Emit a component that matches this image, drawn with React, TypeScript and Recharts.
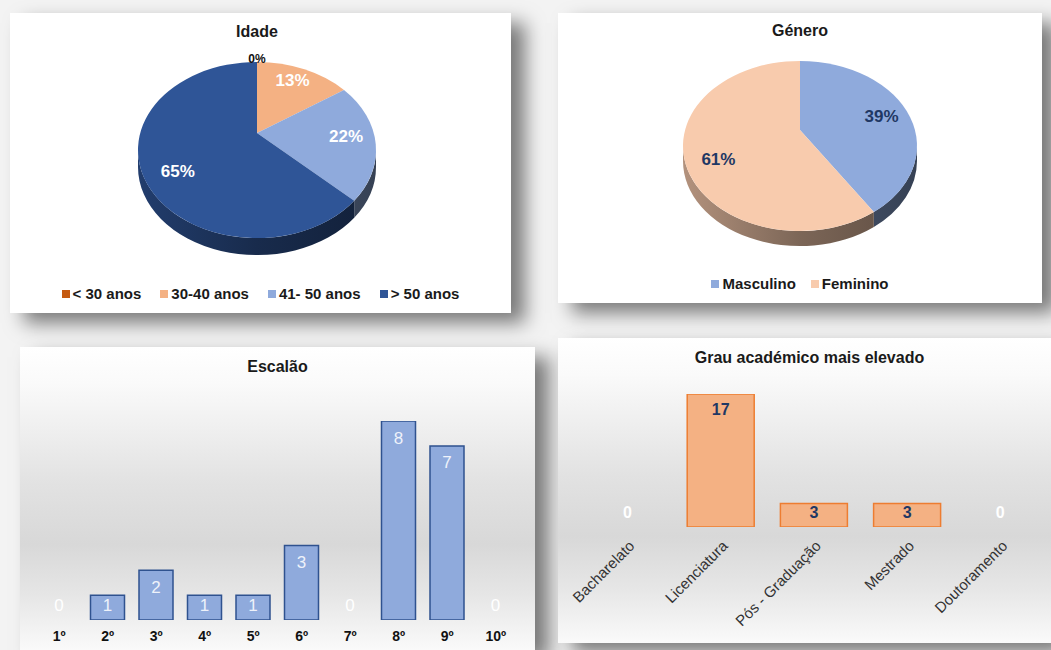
import React from "react";
import { PieChart, Pie, Cell, Legend, BarChart, Bar, XAxis, YAxis, LabelList, Rectangle } from "recharts";

const FONT = '"Liberation Sans", Arial, sans-serif';

// Idade
const ageGroups = ["< 30 anos", "30-40 anos", "41- 50 anos", "> 50 anos"];
const ageCounts = [0, 3, 5, 15];
const ageColors = ["#C55A11", "#F4B183", "#8FAADC", "#2F5597"];

// Género
const genders = ["Masculino", "Feminino"];
const genderCounts = [9, 14];
const genderColors = ["#8FAADC", "#F8CBAD"];

// Escalão
const escaloes = ["1º", "2º", "3º", "4º", "5º", "6º", "7º", "8º", "9º", "10º"];
const escalaoCounts = [0, 1, 2, 1, 1, 3, 0, 8, 7, 0];

// Grau académico
const graus = ["Bacharelato", "Licenciatura", "Pós - Graduação", "Mestrado", "Doutoramento"];
const grauCounts = [0, 17, 3, 3, 0];

const ageData = ageGroups.map((name, i) => ({ name, value: ageCounts[i] }));
const genderData = genders.map((name, i) => ({ name, value: genderCounts[i] }));
const escalaoData = escaloes.map((name, i) => ({ name, value: escalaoCounts[i] }));
const grauData = graus.map((name, i) => ({ name, value: grauCounts[i] }));

const RAD = Math.PI / 180;

function shade(hex: string, f: number) {
  const n = parseInt(hex.replace("#", ""), 16);
  const r = Math.round(((n >> 16) & 255) * f);
  const g = Math.round(((n >> 8) & 255) * f);
  const b = Math.round((n & 255) * f);
  return `rgb(${r},${g},${b})`;
}

// flat pie sector drawn as a tilted ellipse with a front wall
function makeSlice(id: string, squash: number, lift: number, depth: number) {
  return (p: any) => {
    const { cx, cy, outerRadius: rx, startAngle, endAngle, fill } = p;
    const ry = rx * squash;
    const hi = Math.max(startAngle, endAngle);
    const lo = Math.min(startAngle, endAngle);
    if (hi - lo <= 0) return <g />;
    const pt = (a: number) => [cx + rx * Math.cos(a * RAD), cy - ry * Math.sin(a * RAD)];
    const [x0, y0] = pt(hi);
    const [x1, y1] = pt(lo);
    const large = hi - lo > 180 ? 1 : 0;
    const top = `M${cx},${cy - lift}L${x0},${y0}A${rx},${ry} 0 ${large} 1 ${x1},${y1}Z`;
    const walls: number[][] = [];
    for (let k = -2; k <= 2; k++) {
      const s = Math.max(lo, k * 360 - 180);
      const e = Math.min(hi, k * 360);
      if (e > s) walls.push([s, e]);
    }
    const gid = `${id}-wall-${Math.round(startAngle)}`;
    return (
      <g>
        <defs>
          <linearGradient id={gid} gradientUnits="userSpaceOnUse" x1={cx - rx} y1={0} x2={cx + rx} y2={0}>
            <stop offset="0" stopColor={shade(fill, 0.72)} />
            <stop offset="0.5" stopColor={shade(fill, 0.5)} />
            <stop offset="1" stopColor={shade(fill, 0.38)} />
          </linearGradient>
        </defs>
        {walls.map(([s, e], i) => {
          const [ax, ay] = pt(e);
          const [bx, by] = pt(s);
          const d = `M${ax},${ay}A${rx},${ry} 0 0 1 ${bx},${by}L${bx},${by + depth}A${rx},${ry} 0 0 0 ${ax},${ay + depth}Z`;
          return <path key={i} d={d} fill={`url(#${gid})`} />;
        })}
        <path d={top} fill={fill} />
      </g>
    );
  };
}

function makePieLabel(squash: number, lift: number, frac: number, color: string) {
  return (p: any) => {
    const { cx, cy, midAngle, outerRadius, percent } = p;
    const rx = outerRadius;
    const ry = rx * squash;
    const txt = `${Math.round(percent * 100)}%`;
    if (!percent) {
      return (
        <text x={cx} y={cy - ry - 3} textAnchor="middle" dominantBaseline="central" fontSize={12} fontWeight="bold" fill="#111" fontFamily={FONT}>
          {txt}
        </text>
      );
    }
    const x = cx + frac * rx * Math.cos(midAngle * RAD);
    const y = cy - lift / 2 - frac * ry * Math.sin(midAngle * RAD);
    return (
      <text x={x} y={y} textAnchor="middle" dominantBaseline="central" fontSize={17} fontWeight="bold" fill={color} fontFamily={FONT}>
        {txt}
      </text>
    );
  };
}

// legend in the original category order
const makeLegend = (gap: number, order: string[]) => (props: any) => {
  const items = [...(props.payload || [])].sort((a: any, b: any) => order.indexOf(a.value) - order.indexOf(b.value));
  return (
    <div style={{ display: "flex", justifyContent: "center", gap, fontFamily: FONT, fontWeight: "bold", fontSize: 15, color: "#1a1a1a" }}>
      {items.map((e: any) => (
        <span key={e.value} style={{ display: "flex", alignItems: "center" }}>
          <span style={{ display: "inline-block", width: 8, height: 8, background: e.color, marginRight: 3 }} />
          {e.value}
        </span>
      ))}
    </div>
  );
};

const escalaoLabel = (p: any) => {
  const { x, y, width, height, value } = p;
  const base = y + height;
  return (
    <text x={x + width / 2} y={Math.min(y + 17, base - 15)} textAnchor="middle" dominantBaseline="central" fontSize={17} fill={value === 0 ? "#ffffff" : "#eef2fa"} fontFamily={FONT}>
      {value}
    </text>
  );
};

const grauLabel = (p: any) => {
  const { x, y, width, height, value } = p;
  const base = y + height;
  return (
    <text x={x + width / 2} y={Math.min(y + 15, base - 15)} textAnchor="middle" dominantBaseline="central" fontSize={16} fontWeight="bold" fill={value === 0 ? "#ffffff" : "#1F3864"} fontFamily={FONT}>
      {value}
    </text>
  );
};

// zero values keep their label but draw no bar
const barShape = (p: any) => (p.value === 0 ? <g /> : <Rectangle {...p} />);

const escalaoTick = (p: any) => (
  <text x={p.x} y={p.y + 8} textAnchor="middle" dominantBaseline="central" fontSize={14} fontWeight="bold" fill="#111" fontFamily={FONT}>
    {p.payload.value}
  </text>
);

const grauTick = (p: any) => {
  const x = p.x + 4;
  const y = p.y + 8;
  return (
    <text x={x} y={y} transform={`rotate(-45, ${x}, ${y})`} textAnchor="end" dominantBaseline="central" fontSize={15} fill="#333" fontFamily={FONT}>
      {p.payload.value}
    </text>
  );
};

const titleStyle: React.CSSProperties = {
  position: "absolute",
  left: 0,
  right: 0,
  textAlign: "center",
  fontFamily: FONT,
  fontWeight: "bold",
  fontSize: 16,
  color: "#1a1a1a",
  zIndex: 1,
};

const panelShadow = "14px 10px 18px rgba(0,0,0,0.5)";
const greyFloor = "linear-gradient(to bottom, #ffffff 0%, #fafafa 12%, #e2e2e2 45%, #d8d8d8 65%, #e6e6e6 82%, #fafafa 100%)";

export default function App() {
  return (
    <div style={{ position: "absolute", left: 0, top: 0, width: 1051, height: 650, overflow: "hidden", background: "#f3f3f3" }}>
      {/* Idade */}
      <div style={{ position: "absolute", left: 10, top: 13, width: 501, height: 300, background: "#fff", boxShadow: panelShadow }}>
        <div style={{ ...titleStyle, top: 10, paddingRight: 7 }}>Idade</div>
        <PieChart width={501} height={300} margin={{ top: 0, right: 0, bottom: 0, left: 0 }}>
          <Pie
            data={ageData}
            dataKey="value"
            nameKey="name"
            cx={247}
            cy={137}
            outerRadius={119}
            startAngle={90}
            endAngle={-270}
            stroke="none"
            labelLine={false}
            label={makePieLabel(0.74, 17, 0.75, "#ffffff")}
            shape={makeSlice("age", 0.74, 17, 17)}
            isAnimationActive={false}
          >
            {ageData.map((d, i) => (
              <Cell key={d.name} fill={ageColors[i]} />
            ))}
          </Pie>
          <Legend verticalAlign="bottom" wrapperStyle={{ bottom: 11, paddingRight: 6 }} content={makeLegend(19, ageGroups)} />
        </PieChart>
      </div>

      {/* Género */}
      <div style={{ position: "absolute", left: 558, top: 13, width: 484, height: 290, background: "#fff", boxShadow: panelShadow }}>
        <div style={{ ...titleStyle, top: 9 }}>Género</div>
        <PieChart width={484} height={290} margin={{ top: 0, right: 0, bottom: 0, left: 0 }}>
          <Pie
            data={genderData}
            dataKey="value"
            nameKey="name"
            cx={242}
            cy={133}
            outerRadius={117}
            startAngle={90}
            endAngle={-270}
            stroke="none"
            labelLine={false}
            label={makePieLabel(0.727, 16, 0.74, "#1F3864")}
            shape={makeSlice("gen", 0.727, 16, 15)}
            isAnimationActive={false}
          >
            {genderData.map((d, i) => (
              <Cell key={d.name} fill={genderColors[i]} />
            ))}
          </Pie>
          <Legend verticalAlign="bottom" wrapperStyle={{ bottom: 11 }} content={makeLegend(15, genders)} />
        </PieChart>
      </div>

      {/* Escalão */}
      <div style={{ position: "absolute", left: 20, top: 347, width: 515, height: 303, background: greyFloor, boxShadow: panelShadow }}>
        <div style={{ ...titleStyle, top: 11 }}>Escalão</div>
        <BarChart width={515} height={303} data={escalaoData} margin={{ top: 74, right: 15, bottom: 0, left: 15 }}>
          <XAxis dataKey="name" axisLine={false} tickLine={false} height={30} interval={0} tick={escalaoTick} />
          <YAxis hide domain={[0, 8]} allowDataOverflow />
          <Bar dataKey="value" fill="#8FAADC" stroke="#2F528F" strokeWidth={1.5} barSize={34} minPointSize={1} shape={barShape} isAnimationActive={false}>
            <LabelList dataKey="value" content={escalaoLabel} />
          </Bar>
        </BarChart>
      </div>

      {/* Grau académico */}
      <div style={{ position: "absolute", left: 558, top: 338, width: 493, height: 305, background: greyFloor, boxShadow: panelShadow }}>
        <div style={{ ...titleStyle, top: 11, paddingLeft: 10 }}>Grau académico mais elevado</div>
        <BarChart width={493} height={305} data={grauData} margin={{ top: 56, right: 4, bottom: 0, left: 23 }}>
          <XAxis dataKey="name" axisLine={false} tickLine={false} height={116} interval={0} tick={grauTick} />
          <YAxis hide domain={[0, 17]} allowDataOverflow />
          <Bar dataKey="value" fill="#F4B183" stroke="#ED7D31" strokeWidth={1.5} barSize={67} minPointSize={1} shape={barShape} isAnimationActive={false}>
            <LabelList dataKey="value" content={grauLabel} />
          </Bar>
        </BarChart>
      </div>
    </div>
  );
}
